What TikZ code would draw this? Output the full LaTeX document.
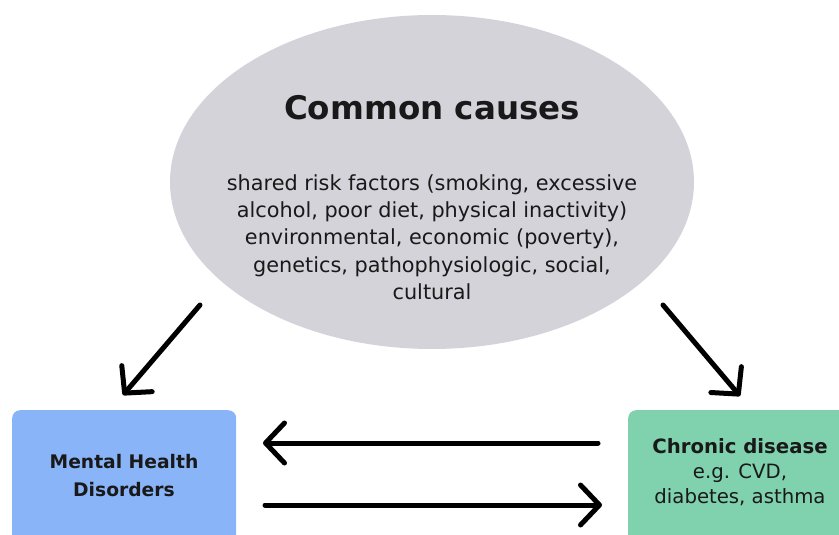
\documentclass[tikz,border=0pt]{standalone}
\usepackage{fontspec}
\setmainfont{DejaVu Sans}
\usetikzlibrary{arrows.meta,shapes.geometric}
\definecolor{causegrey}{HTML}{D5D3DA}
\definecolor{mhblue}{HTML}{8AB4F8}
\definecolor{cdgreen}{HTML}{80D1AE}
\begin{document}
\begin{tikzpicture}[x=1pt,y=-1pt,
  bubble/.style={ellipse, fill=causegrey, draw=none, minimum width=524pt, minimum height=334pt, inner sep=0pt},
  card/.style={rectangle, rounded corners=8pt, draw=none, minimum width=224pt, minimum height=150pt, anchor=north west},
  label/.style={align=center, inner sep=0pt, text=black!90},
  link/.style={line width=5pt, line cap=round, -{Straight Barb[length=19pt,width=40pt,round]}}]
\useasboundingbox (0,0) rectangle (839,535);
\clip (0,0) rectangle (839,535);
% background shapes
\node[bubble] (causes) at (432,182) {};
\node[card, fill=mhblue] (mh) at (12,410) {};
\node[card, fill=cdgreen, minimum width=240pt] (cd) at (628,410) {};
% texts
\node[label, font=\fontsize{32.5}{40}\selectfont\bfseries] (title) at (432,108) {Common causes};
\node[label, font=\fontsize{20.8}{27.3}\selectfont] (list) at (432,237)
  {shared risk factors (smoking, excessive\\alcohol, poor diet, physical inactivity)\\environmental, economic (poverty),\\genetics, pathophysiologic, social,\\cultural};
\node[label, font=\fontsize{18.7}{28}\selectfont\bfseries] (mhtext) at (124,476) {Mental Health\\Disorders};
\node[label, font=\fontsize{19.7}{25}\selectfont] (cdtext) at (740,472) {\textbf{Chronic disease}\\e.g. CVD,\\diabetes, asthma};
% connector end points
\coordinate (a1) at (200,305);
\coordinate (a2) at (123,395);
\coordinate (b1) at (663,305);
\coordinate (b2) at (740,396);
\coordinate (c1) at (598,443);
\coordinate (c2) at (263,443);
\coordinate (d1) at (265,505);
\coordinate (d2) at (602,505);
% connectors
\draw[link] (a1) -- (a2);
\draw[link] (b1) -- (b2);
\draw[link] (c1) -- (c2);
\draw[link] (d1) -- (d2);
\end{tikzpicture}
\end{document}
